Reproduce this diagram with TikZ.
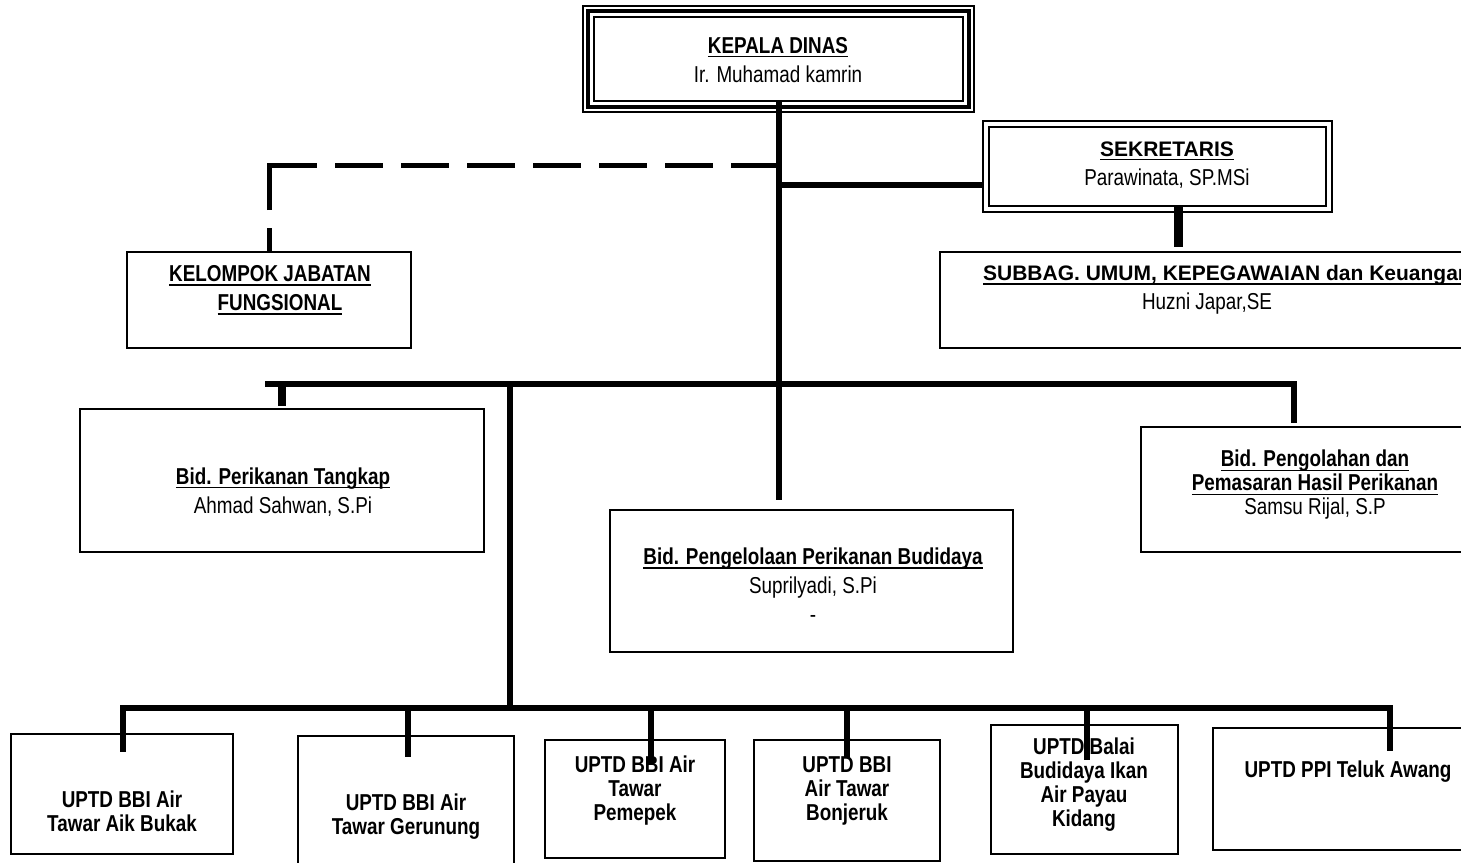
\documentclass[tikz,border=0pt]{standalone}
\usepackage{fontspec}
\setmainfont{Liberation Sans}[FakeStretch=0.82]
\newfontfamily\widesans{Liberation Sans}
\usetikzlibrary{calc,positioning}
\newsavebox\undlbox
\newcommand{\undl}[1]{\sbox\undlbox{#1}\rlap{\rule[-2pt]{\wd\undlbox}{0.7pt}}\usebox\undlbox}
\tikzset{orgbox/.style={draw,line width=1pt,inner sep=0,outer sep=0},
  thinbox/.style={draw,line width=0.75pt,inner sep=0,outer sep=0},
  conn/.style={line width=3.3pt,line cap=rect},
  dashconn/.style={line width=2.5pt,dash pattern=on 24pt off 9pt},
  boxsize/.style 2 args={minimum width=#1*0.5pt,minimum height=#2*0.5pt},
  headtxt/.style={align=center,inner sep=0,font=\fontsize{11.5}{14.5}\selectfont},
  bidtxt/.style={align=center,inner sep=0,font=\fontsize{11.5}{12}\selectfont},
  uptdtxt/.style={align=center,inner sep=0,font=\bfseries\fontsize{11.5}{12}\selectfont}}

\begin{document}
\begin{tikzpicture}[x=0.5pt,y=-0.5pt]

\useasboundingbox (0,0) rectangle (1461,862);
\begin{scope}[overlay]
\clip (0,0) rectangle (1461,862);

% Boxes
\node[thinbox,boxsize={391}{106}] (kadis) at (778.5,59) {};
\draw[line width=2pt] ([shift={(5,5)}]kadis.north west) rectangle ([shift={(-5,-5)}]kadis.south east);
\draw[line width=0.75pt] ([shift={(11,11)}]kadis.north west) rectangle ([shift={(-11,-11)}]kadis.south east);
\node[thinbox,boxsize={349}{91}] (sekre) at (1157.5,166.5) {};
\draw[line width=1.2pt] ([shift={(6,6)}]sekre.north west) rectangle ([shift={(-6,-6)}]sekre.south east);
\node[orgbox,boxsize={284}{96}] (kelompok) at (269,300) {};
\node[orgbox,boxsize={540}{96}] (subbag) at (1210,300) {};
\node[orgbox,boxsize={404}{143}] (tangkap) at (282,480.5) {};
\node[orgbox,boxsize={403}{142}] (budidaya) at (811.5,581) {};
\node[orgbox,boxsize={349}{125}] (olahan) at (1315.5,489.5) {};
\foreach \n/\x/\y/\w/\h in {1/122/794/222/120, 2/406/808/216/144, 3/635/799/180/118,
  4/847/800.5/186/121, 5/1084.5/789.5/187/129, 6/1356/789/286/122}
  \node[orgbox,boxsize={\w}{\h}] (uptd\n) at (\x,\y) {};

% Texts
\node[headtxt] (kadis-t) at (778,60) {\undl{\bfseries KEPALA DINAS}\\Ir. Muhamad kamrin};
\node[headtxt] (sekre-t) at (1167,165) {\undl{\widesans\bfseries\fontsize{10.5}{14.5}\selectfont SEKRETARIS}\\Parawinata, SP.MSi};
\node[headtxt] (kelompok-t) at (270,290) {\undl{\bfseries KELOMPOK JABATAN}\\\hspace*{10pt}\undl{\bfseries FUNGSIONAL}};
\node[headtxt] (subbag-t) at (1227,290) {\undl{\widesans\bfseries\fontsize{10.5}{14.5}\selectfont SUBBAG. UMUM, KEPEGAWAIAN dan Keuangan}\\Huzni Japar,SE\hspace*{20pt}};
\node[headtxt] (tangkap-t) at (283,492) {\undl{\bfseries Bid. Perikanan Tangkap}\\Ahmad Sahwan, S.Pi};
\node[headtxt] (budidaya-t) at (813,585.5) {\undl{\bfseries Bid. Pengelolaan Perikanan Budidaya}\\Suprilyadi, S.Pi\\-};
\node[bidtxt] (olahan-t) at (1315,485) {\undl{\bfseries Bid. Pengolahan dan}\\\undl{\bfseries Pemasaran Hasil Perikanan}\\Samsu Rijal, S.P};
\node[uptdtxt] (uptd1-t) at (122,811) {UPTD BBI Air\\Tawar Aik Bukak};
\node[uptdtxt] (uptd2-t) at (406,817) {UPTD BBI Air\\Tawar Gerunung};
\node[uptdtxt] (uptd3-t) at (635,791) {UPTD BBI Air\\Tawar\\Pemepek};
\node[uptdtxt] (uptd4-t) at (847,791) {UPTD BBI\\Air Tawar\\Bonjeruk};
\node[uptdtxt] (uptd5-t) at (1084,785) {UPTD Balai\\Budidaya Ikan\\Air Payau\\Kidang};
\node[uptdtxt] (uptd6-t) at (1348,772) {UPTD PPI Teluk Awang};

% Lines
\coordinate (main-top) at (779,102);
\coordinate (main-end) at (779,500);
\draw[conn,line cap=butt] (main-top) -- (main-end);
\coordinate (sek-join) at (779,185);
\draw[conn,line cap=butt] (sek-join) -- (sek-join -| sekre.west);
\coordinate (sub-drop) at (1178,206);
\draw[conn,line width=4.5pt,line cap=butt] (sub-drop) -- ++(0,41);

% Dashed link
\coordinate (dash-join) at (779,165);
\coordinate (dash-corner) at (kelompok.north |- dash-join);
\draw[dashconn,dash phase=12pt] (kelompok.north) -- ([yshift=1.25pt]dash-corner);
\draw[dashconn] (dash-corner) -- (dash-join);

\coordinate (tbus-l) at (268,384);
\coordinate (tbus-r) at (1294,384);
\draw[conn] (tbus-l) -- (tbus-r) -- ++(0,36);
\coordinate (tangkap-drop) at (282,384);
\draw[conn,line width=4pt,line cap=butt] (tangkap-drop) -- ++(0,22);
\coordinate (uptd-join) at (510,384);
\coordinate (bbus-m) at (510,708);
\draw[conn] (uptd-join) -- (bbus-m);
\coordinate (bbus-l) at (123,708);
\coordinate (bbus-r) at (1390,708);
\draw[conn] (bbus-l) -- (bbus-r);
\foreach \x/\e in {123/752, 408/757, 651/763, 847/758, 1087/760, 1390/751}
  \draw[conn,line cap=butt] (\x,708) -- (\x,\e);
\end{scope}

\end{tikzpicture}
\end{document}
